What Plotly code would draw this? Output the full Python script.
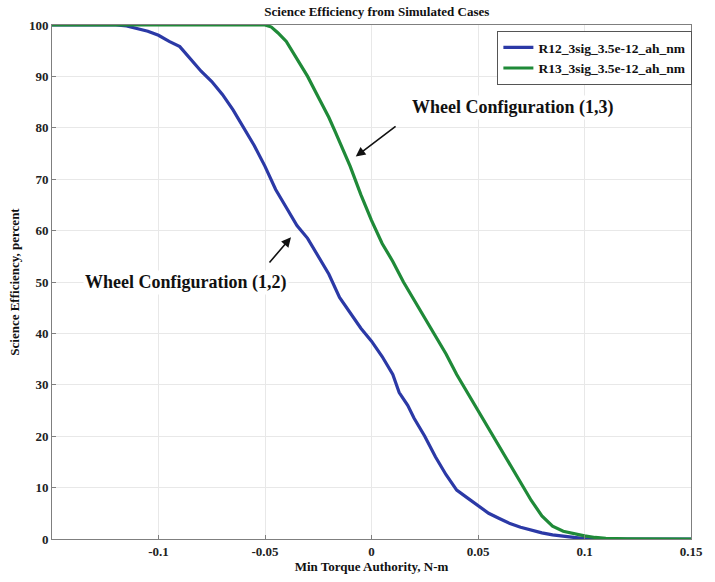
import plotly.graph_objects as go

# ---- data ----
x_r12 = [-0.15, -0.12, -0.115, -0.11, -0.105, -0.1, -0.095, -0.09, -0.085, -0.08,
         -0.075, -0.07, -0.065, -0.06, -0.055, -0.05, -0.045, -0.04, -0.035, -0.03,
         -0.025, -0.02, -0.015, -0.01, -0.005, 0.0, 0.005, 0.01, 0.013, 0.017,
         0.02, 0.025, 0.03, 0.035, 0.04, 0.045, 0.05, 0.055, 0.06, 0.065,
         0.07, 0.075, 0.08, 0.085, 0.09, 0.095, 0.1, 0.105, 0.15]
y_r12 = [100, 100, 99.8, 99.3, 98.8, 98.0, 96.8, 95.8, 93.5, 91.0,
         89.0, 86.5, 83.5, 80.0, 76.5, 72.5, 68.0, 64.5, 61.0, 58.5,
         55.0, 51.5, 47.0, 44.0, 41.0, 38.5, 35.5, 32.0, 28.5, 26.0,
         23.5, 20.0, 16.0, 12.5, 9.5, 8.0, 6.5, 5.0, 4.0, 3.0,
         2.3, 1.7, 1.2, 0.8, 0.5, 0.3, 0.1, 0.0, 0.0]

x_r13 = [-0.15, -0.05, -0.047, -0.044, -0.04, -0.035, -0.03, -0.025, -0.02, -0.017,
         -0.01, -0.005, 0.0, 0.005, 0.01, 0.015, 0.02, 0.025, 0.03, 0.035,
         0.04, 0.045, 0.05, 0.055, 0.06, 0.065, 0.07, 0.075, 0.08, 0.085,
         0.09, 0.095, 0.1, 0.105, 0.11, 0.12, 0.13, 0.15]
y_r13 = [100, 100, 99.6, 98.5, 96.8, 93.5, 90.0, 86.0, 82.0, 79.2,
         72.5, 67.0, 62.0, 57.5, 54.0, 50.0, 46.5, 43.0, 39.5, 36.0,
         32.0, 28.5, 25.0, 21.5, 18.0, 14.5, 11.0, 7.5, 4.5, 2.5,
         1.5, 1.0, 0.6, 0.3, 0.15, 0.05, 0.0, 0.0]

names = ["R12_3sig_3.5e-12_ah_nm", "R13_3sig_3.5e-12_ah_nm"]
x_ticks = [-0.1, -0.05, 0, 0.05, 0.1, 0.15]
x_tick_labels = ["-0.1", "-0.05", "0", "0.05", "0.1", "0.15"]
y_ticks = [0, 10, 20, 30, 40, 50, 60, 70, 80, 90, 100]
y_tick_labels = [str(v) for v in y_ticks]

FONT = "Times New Roman, Liberation Serif, DejaVu Serif, serif"

fig = go.Figure()
fig.add_trace(go.Scatter(x=x_r12, y=y_r12, mode="lines", name="<b>" + names[0] + "</b>",
                         line=dict(color="#2B39A6", width=3.2)))
fig.add_trace(go.Scatter(x=x_r13, y=y_r13, mode="lines", name="<b>" + names[1] + "</b>",
                         line=dict(color="#1F8A38", width=3.2)))

axis_common = dict(showline=True, linecolor="#7f7f7f", linewidth=1, mirror=True,
                   showgrid=True, gridcolor="#e8e8e8", gridwidth=1,
                   ticks="inside", ticklen=4, tickcolor="#7f7f7f",
                   zeroline=False,
                   tickfont=dict(family=FONT, size=13, color="#222222"))

fig.update_xaxes(range=[-0.15, 0.15], tickvals=x_ticks,
                 ticktext=["<b>" + t + "</b>" for t in x_tick_labels],
                 title=dict(text="<b>Min Torque Authority, N-m</b>",
                            font=dict(family=FONT, size=13, color="#111111"), standoff=2),
                 **axis_common)
fig.update_yaxes(range=[0, 100], tickvals=y_ticks,
                 ticktext=["<b>" + t + "</b>" for t in y_tick_labels],
                 title=dict(text="<b>Science Efficiency, percent</b>",
                            font=dict(family=FONT, size=13, color="#111111"), standoff=6),
                 **axis_common)

fig.update_layout(
    width=715, height=582,
    margin=dict(l=52, r=14, t=25, b=37),
    paper_bgcolor="white", plot_bgcolor="white",
    font=dict(family=FONT, size=13, color="#111111"),
    title=dict(text="<b>Science Efficiency from Simulated Cases</b>",
               font=dict(family=FONT, size=13, color="#111111"),
               x=0.527, xanchor="center", y=0.988, yanchor="top"),
    legend=dict(x=0.697, y=0.988, xanchor="left", yanchor="top",
                bgcolor="white", bordercolor="#555555", borderwidth=1,
                font=dict(family=FONT, size=13.5, color="#111111"),
                tracegroupgap=0, itemwidth=30),
    showlegend=True,
)

# annotations: text labels
fig.add_annotation(x=0.0665, y=84.0, xref="x", yref="y",
                   text="<b>Wheel Configuration (1,3)</b>", showarrow=False,
                   bgcolor="white", font=dict(family=FONT, size=18, color="#111111"))
fig.add_annotation(x=-0.0870, y=50, xref="x", yref="y",
                   text="<b>Wheel Configuration (1,2)</b>", showarrow=False,
                   bgcolor="white", font=dict(family=FONT, size=18, color="#111111"))
# arrows
fig.add_annotation(x=-0.0074, y=74.4, ax=0.012, ay=80.5, xref="x", yref="y",
                   axref="x", ayref="y", text="", showarrow=True,
                   arrowhead=2, arrowsize=1.2, arrowwidth=1.6, arrowcolor="#111111")
fig.add_annotation(x=-0.0378, y=58.7, ax=-0.0485, ay=53.5, xref="x", yref="y",
                   axref="x", ayref="y", text="", showarrow=True,
                   arrowhead=2, arrowsize=1.2, arrowwidth=1.6, arrowcolor="#111111")

fig.write_html("out.html")
